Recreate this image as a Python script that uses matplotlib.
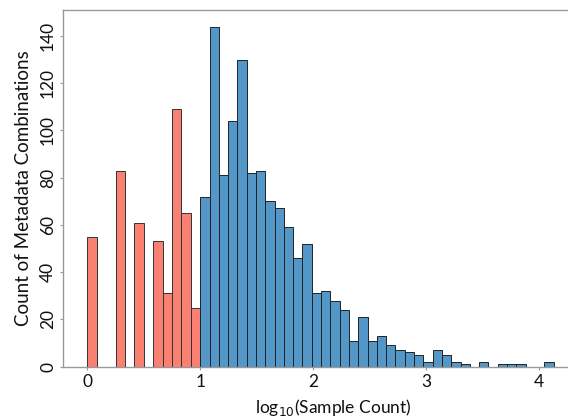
import numpy as np
import matplotlib
matplotlib.use("Agg")
import matplotlib.pyplot as plt

plt.rcParams['font.family'] = ['Lato', 'DejaVu Sans']

# log10 sample count histogram, counts
# small sample counts (< 10) drawn in red, width 1/12
red_edges = np.arange(12) / 12
red_counts = [55, 0, 0, 83, 0, 61, 0, 53, 31, 109, 65, 25]

# larger sample counts (>= 10), 38 bins from 1 to ~4.13
blue_edges = np.linspace(1.0, 4.13, 39)[:-1]
blue_counts = [72, 144, 81, 104, 130, 82, 83, 70, 67, 59, 46, 52,
               31, 32, 28, 24, 11, 21, 11, 13, 9, 7, 6, 5,
               2, 7, 5, 2, 1, 0, 2, 0, 1, 1, 1, 0, 0, 2]

xticks = [0, 1, 2, 3, 4]
yticks = [0, 20, 40, 60, 80, 100, 120, 140]

fig = plt.figure(figsize=(5.68, 4.19), dpi=100)
ax = fig.add_axes([0.111, 0.125, 0.95, 0.851])

ax.bar(red_edges, red_counts, width=1 / 12, align='edge',
       color='#fa8072', edgecolor='#333333', linewidth=0.7)
ax.bar(blue_edges, blue_counts, width=(4.13 - 1.0) / 38, align='edge',
       color='#5396c8', edgecolor='#222222', linewidth=0.7)

ax.set_xlim(-0.215, 4.565)
ax.set_ylim(0, 151)
ax.set_xticks(xticks)
ax.set_yticks(yticks)
ax.set_yticklabels([str(t) for t in yticks], rotation=90, va='center')

for side in ['left', 'top', 'bottom']:
    ax.spines[side].set_color('#999999')
    ax.spines[side].set_linewidth(1.0)
ax.spines['right'].set_visible(False)
ax.tick_params(length=2, color='#999999', labelsize=12.5, labelcolor='#111111', pad=3)

ax.set_xlabel('log$_{10}$(Sample Count)', fontsize=12.5, color='#111111', labelpad=5)
ax.set_ylabel('Count of Metadata Combinations', fontsize=13.5, color='#111111', labelpad=6)

fig.savefig('out.png', dpi=100)
